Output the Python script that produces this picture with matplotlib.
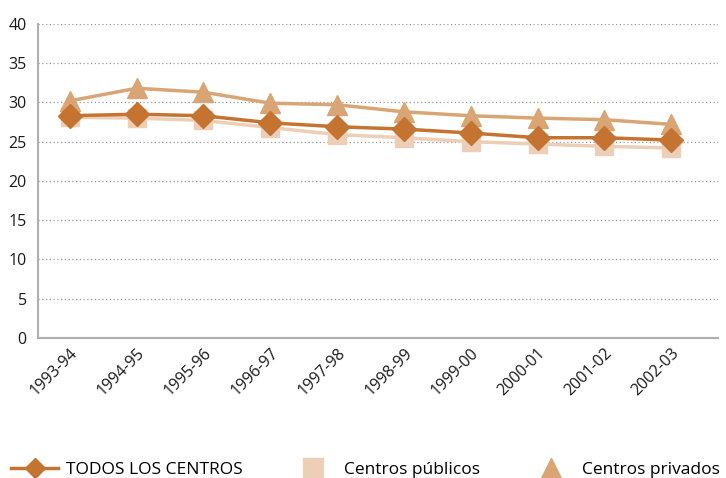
import matplotlib.pyplot as plt
import numpy as np

plt.rcParams['font.family'] = ['Open Sans', 'DejaVu Sans']

cursos = ['1993-94', '1994-95', '1995-96', '1996-97', '1997-98',
          '1998-99', '1999-00', '2000-01', '2001-02', '2002-03']
todos = [28.3, 28.5, 28.3, 27.4, 26.9, 26.6, 26.1, 25.5, 25.5, 25.2]
publicos = [28.1, 28.0, 27.7, 26.8, 25.9, 25.5, 25.0, 24.7, 24.4, 24.2]
privados = [30.2, 31.8, 31.3, 29.9, 29.7, 28.8, 28.3, 28.0, 27.8, 27.2]

c_todos = '#C47331'
c_pub = '#EDCFB8'
c_priv = '#D9A575'

fig = plt.figure(figsize=(7.26, 4.78), dpi=100)
ax = fig.add_axes([0.052, 0.293, 0.937, 0.657])
x = np.arange(len(cursos))

ax.plot(x, publicos, color=c_pub, lw=2.5, marker='s', ms=13, mec=c_pub, zorder=2)
ax.plot(x, privados, color=c_priv, lw=2.5, marker='^', ms=15, mec=c_priv, zorder=3)
ax.plot(x, todos, color=c_todos, lw=2.5, marker='D', ms=12, mec=c_todos, zorder=4)

ax.set_ylim(0, 40)
ax.set_yticks(range(0, 41, 5))
ax.set_xlim(-0.48, 9.7)
ax.set_xticks(x)
ax.set_xticklabels(cursos, rotation=45, ha='right', rotation_mode='anchor')
ax.tick_params(length=0, labelsize=11.5, colors='#1a1a1a')
ax.tick_params(axis='x', pad=5)
ax.tick_params(axis='y', pad=8)
ax.grid(axis='y', color='#999999', linestyle=(0, (1, 2)), lw=0.9)
ax.set_axisbelow(True)
for s in ['top', 'right']:
    ax.spines[s].set_visible(False)
for s in ['left', 'bottom']:
    ax.spines[s].set_color('#b0b0b0')
    ax.spines[s].set_linewidth(1.5)

h1, = ax.plot([], [], color=c_todos, lw=2.5, marker='D', ms=10)
h2, = ax.plot([], [], color=c_pub, lw=0, marker='s', ms=14)
h3, = ax.plot([], [], color=c_priv, lw=0, marker='^', ms=15)
fig.legend([h1, h2, h3], ['TODOS LOS CENTROS', 'Centros públicos', 'Centros privados'],
           loc='lower left', bbox_to_anchor=(-0.006, -0.032), ncol=3, frameon=False,
           fontsize=12.5, handlelength=2.7, columnspacing=2.7, handletextpad=0.45)

fig.savefig('out.png', dpi=100)
